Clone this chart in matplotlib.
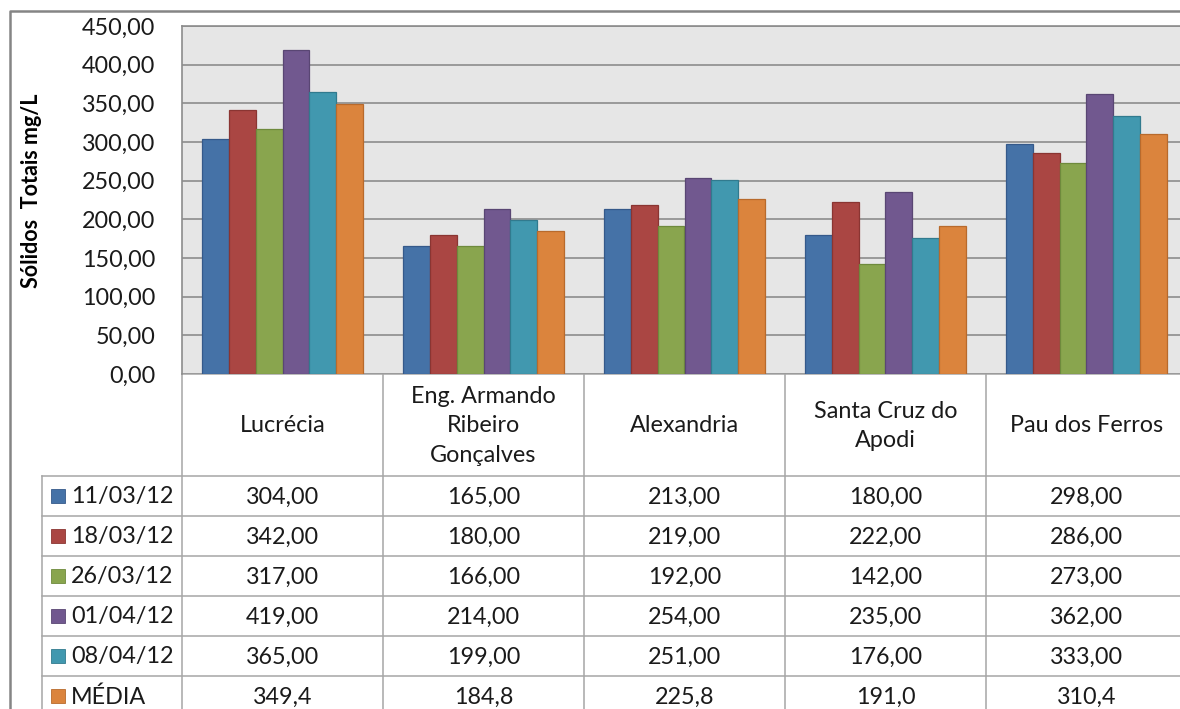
import matplotlib
matplotlib.use("Agg")
import matplotlib.pyplot as plt
import numpy as np

plt.rcParams['font.family'] = ['Lato', 'DejaVu Sans']

categories = ["Lucrécia", "Eng. Armando\nRibeiro\nGonçalves", "Alexandria",
              "Santa Cruz do\nApodi", "Pau dos Ferros"]
series_names = ["11/03/12", "18/03/12", "26/03/12", "01/04/12", "08/04/12", "MÉDIA"]
s_11_03 = [304.0, 165.0, 213.0, 180.0, 298.0]
s_18_03 = [342.0, 180.0, 219.0, 222.0, 286.0]
s_26_03 = [317.0, 166.0, 192.0, 142.0, 273.0]
s_01_04 = [419.0, 214.0, 254.0, 235.0, 362.0]
s_08_04 = [365.0, 199.0, 251.0, 176.0, 333.0]
s_media = [349.4, 184.8, 225.8, 191.0, 310.4]
series_values = [s_11_03, s_18_03, s_26_03, s_01_04, s_08_04, s_media]
y_ticks = [0, 50, 100, 150, 200, 250, 300, 350, 400, 450]

colors = ["#4572A7", "#AA4643", "#89A54E", "#71588F", "#4198AF", "#DB843D"]
edges = ["#35598A", "#8A3532", "#6E8A3C", "#594673", "#317A8E", "#B86A2C"]

FS = 16.8
W, H = 1180, 709
fig = plt.figure(figsize=(W / 100, H / 100), dpi=100)
fig.patch.set_facecolor("white")

# overlay axes in pixel coordinates
ov = fig.add_axes([0, 0, 1, 1])
ov.set_xlim(0, W)
ov.set_ylim(H, 0)
ov.axis("off")

# plot axes geometry (pixels)
px_left, px_right, px_top, px_bottom = 182, 1187, 26, 374
ax = fig.add_axes([px_left / W, 1 - px_bottom / H, (px_right - px_left) / W,
                   (px_bottom - px_top) / H])
ax.set_facecolor("#E6E6E6")
n_cat = len(categories)
n_ser = len(series_values)
x = np.arange(n_cat)
bw = 1.0 / (n_ser + 1.5)
for i, (vals, c, e) in enumerate(zip(series_values, colors, edges)):
    ax.bar(x + (i - (n_ser - 1) / 2) * bw, vals, width=bw, color=c,
           edgecolor=e, linewidth=0.9, zorder=3)
ax.set_xlim(-0.5, n_cat - 0.5)
ax.set_ylim(0, 450)
ax.set_yticks(y_ticks)
ax.set_yticklabels([f"{v:.2f}".replace(".", ",") for v in y_ticks],
                   fontsize=FS, color="#1a1a1a")
ax.tick_params(axis="y", length=0, pad=19)
ax.set_xticks([])
ax.grid(axis="y", color="#8C8C8C", linewidth=1.2, zorder=1)
for s in ["right", "bottom"]:
    ax.spines[s].set_visible(False)
for s in ["left", "top"]:
    ax.spines[s].set_color("#8C8C8C")
    ax.spines[s].set_linewidth(1.2)

# outer chart frame
ov.plot([10, 10, W + 5], [H + 5, 11, 11], color="#858585", linewidth=1.8,
        clip_on=False)

# y label
ov.text(32, 191, "Sólidos  Totais mg/L", rotation=90, ha="center",
        va="center", fontsize=15.5, fontweight="bold", color="#000000")

# data table
line_c = "#A6A6A6"
lw = 1.1
cat_w = (px_right - px_left) / n_cat
col_edges = [px_left + k * cat_w for k in range(n_cat + 1)]
header_bottom = 476
row_h = 40
row_tops = [header_bottom + r * row_h for r in range(n_ser + 1)]
leg_left = 42

# vertical lines
for k, xe in enumerate(col_edges):
    ov.plot([xe, xe], [px_bottom, H + 5], color=line_c, linewidth=lw,
            clip_on=False)
ov.plot([leg_left, leg_left], [header_bottom, H + 5], color=line_c,
        linewidth=lw, clip_on=False)
# horizontal lines
ov.plot([px_left, W + 10], [px_bottom, px_bottom], color=line_c, linewidth=lw)
for yt in row_tops:
    ov.plot([leg_left, W + 10], [yt, yt], color=line_c, linewidth=lw)

# header text
for k, cat in enumerate(categories):
    xc = (col_edges[k] + col_edges[k + 1]) / 2
    ov.text(xc, (px_bottom + header_bottom) / 2 + 1, cat, ha="center",
            va="center", fontsize=FS, color="#1a1a1a", linespacing=1.5)

# rows
for r, (name, vals, c, e) in enumerate(zip(series_names, series_values,
                                           colors, edges)):
    yc = row_tops[r] + row_h / 2
    ov.add_patch(plt.Rectangle((51, yc - 7), 14, 14, facecolor=c,
                               edgecolor=e, linewidth=0.6))
    ov.text(71, yc + 1, name, ha="left", va="center", fontsize=FS,
            color="#1a1a1a")
    for k, v in enumerate(vals):
        xc = (col_edges[k] + col_edges[k + 1]) / 2
        if name == "MÉDIA":
            txt = f"{v:.1f}".replace(".", ",")
        else:
            txt = f"{v:.2f}".replace(".", ",")
        ov.text(xc, yc + 1, txt, ha="center", va="center", fontsize=FS,
                color="#1a1a1a")

fig.savefig("out.png", dpi=100, facecolor="white")
